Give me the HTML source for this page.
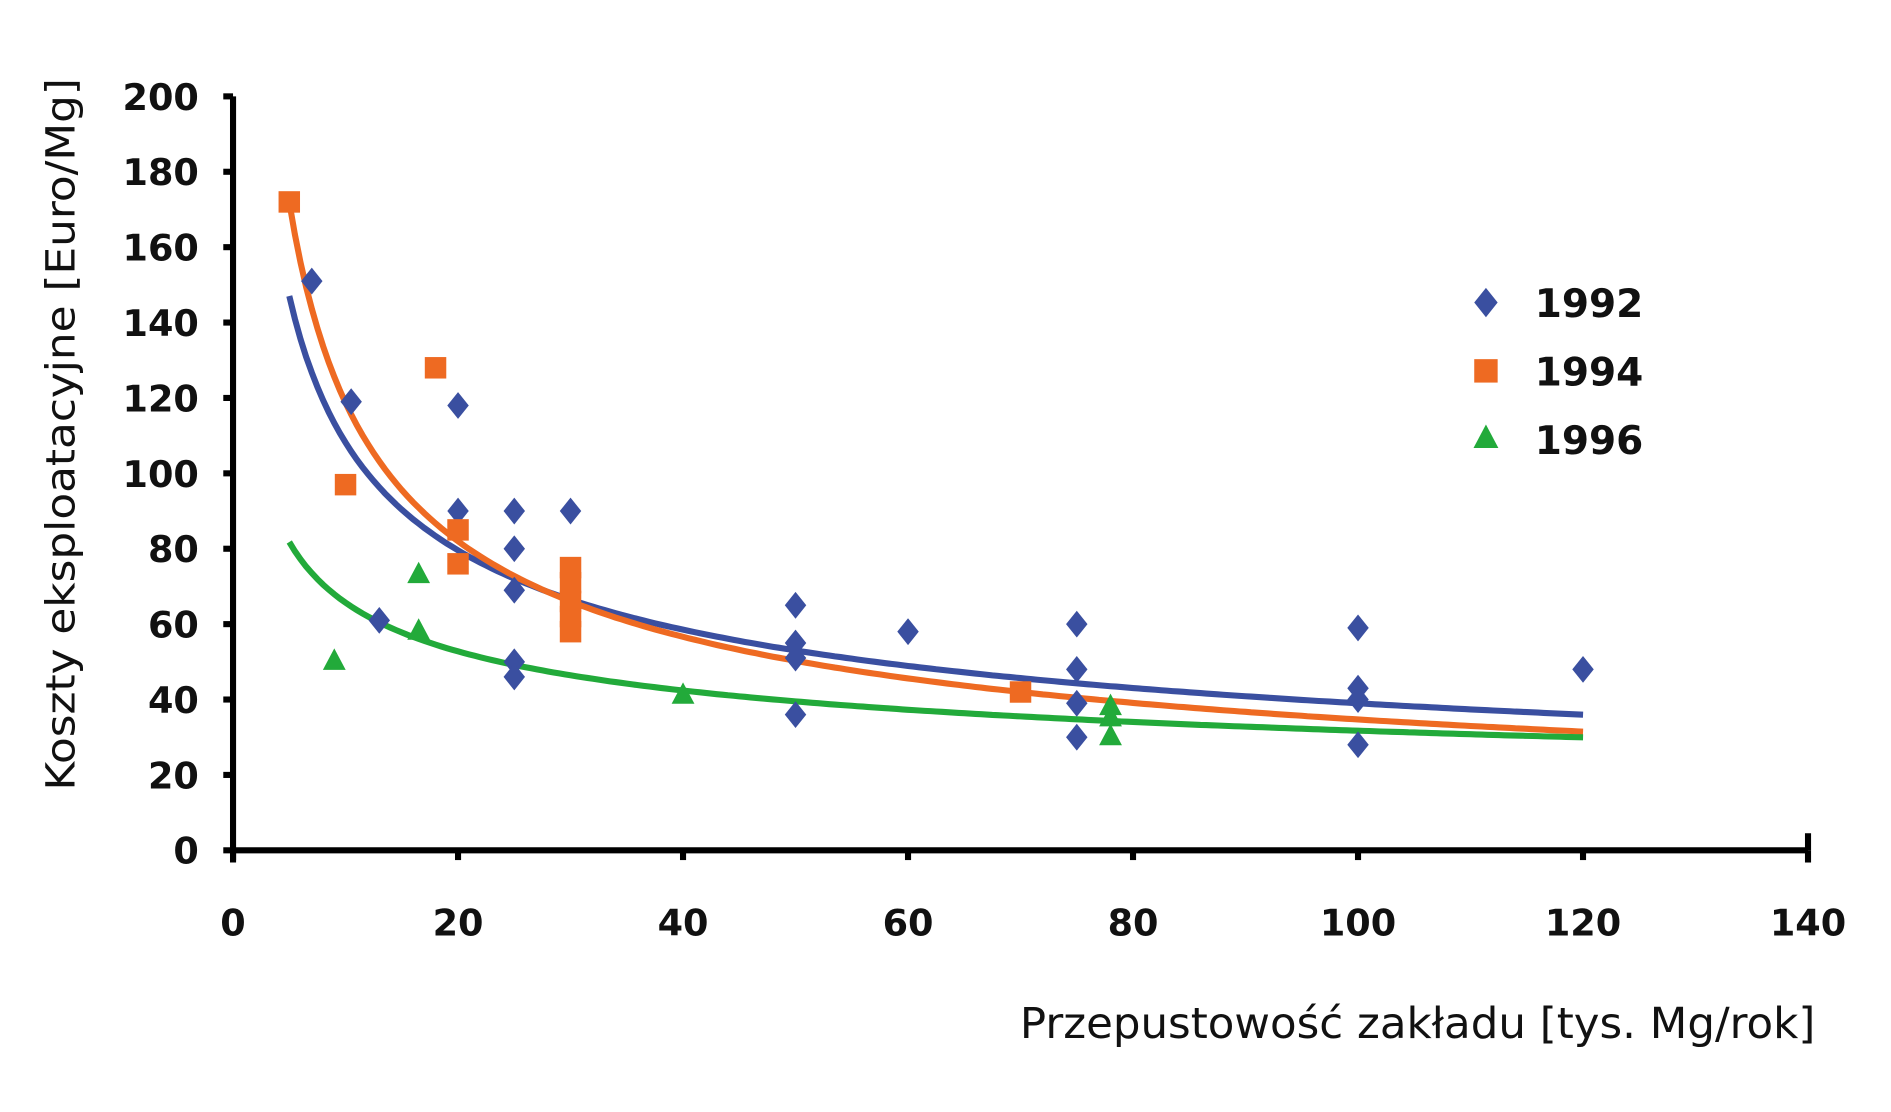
<!DOCTYPE html>
<html><head><meta charset="utf-8"><style>
html,body{margin:0;padding:0;background:#fff;}
svg{display:block;}
text{font-family:"DejaVu Sans","Liberation Sans",sans-serif;}
</style></head><body>
<svg id="chart" width="1891" height="1112" viewBox="0 0 1550 911.5" xmlns="http://www.w3.org/2000/svg">
<g id="axes"></g>
<g id="curves"></g>
<g id="points"></g>
<g id="legend"></g>
<text transform="translate(61,356) rotate(-90)" text-anchor="middle" font-size="33" textLength="584" lengthAdjust="spacingAndGlyphs" fill="#111">Koszty eksploatacyjne [Euro/Mg]</text>
<text x="1488" y="851" text-anchor="end" font-size="35" textLength="652" lengthAdjust="spacingAndGlyphs" fill="#111">Przepustowość zakładu [tys. Mg/rok]</text>
</svg>
<script>
const xTicks=[0,20,40,60,80,100,120,140];
const yTicks=[0,20,40,60,80,100,120,140,160,180,200];
const x1992=[7,10.5,13,20,20,25,25,25,25,25,30,50,50,50,50,60,75,75,75,75,100,100,100,100,120];
const y1992=[151,119,61,118,90,90,80,69,50,46,90,65,55,51,36,58,60,48,39,30,59,43,40,28,48];
const x1994=[5,10,18,20,20,30,30,30,30,30,70];
const y1994=[172,97,128,85,76,75,71,66,62,58,42];
const x1996=[9,16.5,16.5,40,78,78,78];
const y1996=[50,73,58,41,38,35,30];
const fitA=[300,406,136];
const fitB=[-0.443,-0.534,-0.316];
const colors=["#3a4fa0","#ee6a22","#22aa3a"];
const years=["1992","1994","1996"];
const NS="http://www.w3.org/2000/svg";
const X=v=>191+v*(1482-191)/140;
const Y=v=>697-v*(697-79)/200;
function mk(tag,attrs,parent){const e=document.createElementNS(NS,tag);for(const k in attrs)e.setAttribute(k,attrs[k]);parent.appendChild(e);return e;}
const axes=document.getElementById('axes');
let e=mk('line',{x1:X(0),y1:Y(0),x2:X(140),y2:Y(0),stroke:'#000','stroke-width':5},axes);


e=mk('line',{x1:X(0),y1:Y(0)+10,x2:X(0),y2:Y(200),stroke:'#000','stroke-width':5},axes);


xTicks.forEach(t=>{
  const tk=mk('line',{x1:X(t),y1:Y(0),x2:X(t),y2:Y(0)+(t===140?10:8),stroke:'#000','stroke-width':5},axes);
  
  
  if(t===140){const t2=mk('line',{x1:X(t),y1:Y(0)-14,x2:X(t),y2:Y(0),stroke:'#000','stroke-width':5},axes);}
  const lb=mk('text',{x:X(t),y:767,'text-anchor':'middle','font-size':30,'font-weight':'bold',fill:'#111'},axes);
  lb.textContent=t;
  
  
});
yTicks.forEach(t=>{
  const tk=mk('line',{x1:X(0)-8,y1:Y(t),x2:X(0),y2:Y(t),stroke:'#000','stroke-width':5},axes);
  
  
  const lb=mk('text',{x:163,y:Y(t)+11,'text-anchor':'end','font-size':30,'font-weight':'bold',fill:'#111'},axes);
  lb.textContent=t;
  
  
});
const curves=document.getElementById('curves');
[0,1,2].forEach(i=>{
  let d='';
  for(let v=5;v<=120.01;v+=0.5){const yv=fitA[i]*Math.pow(v,fitB[i]);d+=(d?'L':'M')+X(v).toFixed(1)+','+Y(yv).toFixed(1);}
  const p=mk('path',{d:d,fill:'none',stroke:colors[i],'stroke-width':5},curves);
  
  
});
const pts=document.getElementById('points');
function marker(kind,cx,cy,col,parent,s){
  let el;
  if(kind===0) el=mk('polygon',{points:`${cx},${cy-s} ${cx+s*0.8},${cy} ${cx},${cy+s} ${cx-s*0.8},${cy}`,fill:col},parent);
  else if(kind===1) el=mk('rect',{x:cx-s*0.8,y:cy-s*0.8,width:s*1.6,height:s*1.6,fill:col},parent);
  else el=mk('polygon',{points:`${cx},${cy-s} ${cx+s*0.85},${cy+s*0.6} ${cx-s*0.85},${cy+s*0.6}`,fill:col},parent);
  return el;
}
[[x1992,y1992],[x1994,y1994],[x1996,y1996]].forEach((s,i)=>{
  s[0].forEach((xv,j)=>{
    const m=marker(i,X(xv),Y(s[1][j]),colors[i],pts,11);
    
    
  });
});
const lg=document.getElementById('legend');
years.forEach((yr,i)=>{
  const cy=248+i*56;
  const m=marker(i,1218,cy,colors[i],lg,12);
  
  
  const t=mk('text',{x:1258,y:cy+12,'font-size':32,'font-weight':'bold',fill:'#111'},lg);
  t.textContent=yr;
  
  
});
</script>
</body></html>
